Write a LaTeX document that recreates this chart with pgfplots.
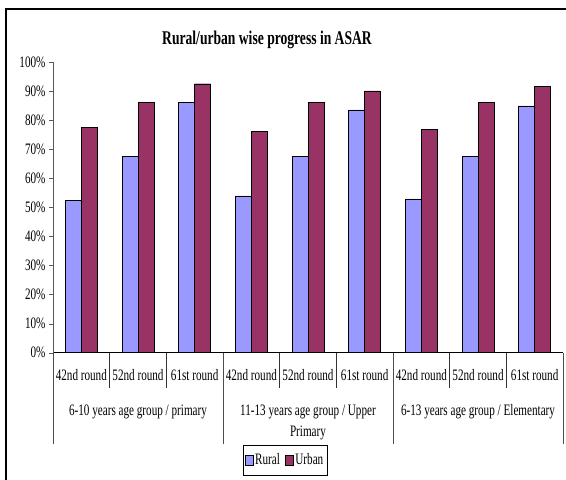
\documentclass[border=0pt]{standalone}
\usepackage{fontspec}
\setmainfont{Liberation Serif}[FakeStretch=0.7]
\usepackage{pgfplots}
\pgfplotsset{compat=1.18}
\definecolor{rural}{HTML}{9999FF}
\definecolor{urban}{HTML}{993366}
\newcommand{\lbl}{\fontsize{16}{18}\selectfont}
\begin{document}
\begin{tikzpicture}[x=1bp,y=1bp]
\useasboundingbox (0,0) rectangle (566,480);
\begin{scope}
\clip (0,0) rectangle (566,480);
\draw[line width=1.3bp] (6,-5) -- (6,471) -- (575,471);
\end{scope}
\node[font=\fontsize{19.5}{22}\selectfont\bfseries] at (267,440) {Rural/urban wise progress in ASAR};
\begin{axis}[
  at={(53bp,127.3bp)}, anchor=south west,
  scale only axis, width=510bp, height=290.8bp,
  xmin=0, xmax=9, ymin=0, ymax=100,
  axis x line=bottom, axis y line=left,
  x axis line style={-, black},
  y axis line style={-, black!65},
  ybar=0pt, bar width=16bp,
  ytick={0,10,...,100},
  yticklabel={\pgfmathprintnumber{\tick}\%},
  /pgf/number format/assume math mode=true,
  tick align=outside, major tick length=4bp,
  ytick style={black!65},
  xtick={0.5,1.5,...,8.5},
  xticklabels={42nd round,52nd round,61st round,42nd round,52nd round,61st round,42nd round,52nd round,61st round},
  xtick style={draw=none},
  xticklabel style={font=\lbl, anchor=base, yshift=-24bp},
  yticklabel style={font=\lbl},
  legend style={at={(0.455,-0.369)}, anchor=center, draw=black, font=\lbl,
    legend columns=-1, inner ysep=7bp, inner xsep=2bp,
    /tikz/every even column/.append style={column sep=3bp}},
  legend image code/.code={\draw[#1,draw=black] (0bp,-5bp) rectangle (8bp,5bp);},
  clip=false,
]
\addplot[fill=rural, draw=black] coordinates {(0.5,52.3) (1.5,67.4) (2.5,86.0) (3.5,53.9) (4.5,67.4) (5.5,83.5) (6.5,52.9) (7.5,67.4) (8.5,84.9)};
\addplot[fill=urban, draw=black] coordinates {(0.5,77.5) (1.5,86.0) (2.5,92.5) (3.5,76.0) (4.5,86.0) (5.5,90.0) (6.5,76.9) (7.5,86.0) (8.5,91.6)};
\legend{Rural,Urban}
\pgfplotsinvokeforeach{1,2,4,5,7,8}{\draw[black!80] (axis cs:#1,0) -- ++(0,-35bp);}
\pgfplotsinvokeforeach{0,3,6,9}{\draw[black!70] (axis cs:#1,0) -- ++(0,-91bp);}
\node[font=\lbl, anchor=base] at ([yshift=-62.8bp]axis cs:1.5,0) {6-10 years age group / primary};
\node[font=\lbl, anchor=base] at ([yshift=-62.8bp]axis cs:4.5,0) {11-13 years age group / Upper};
\node[font=\lbl, anchor=base] at ([yshift=-83.8bp]axis cs:4.5,0) {Primary};
\node[font=\lbl, anchor=base] at ([yshift=-62.8bp]axis cs:7.5,0) {6-13 years age group / Elementary};
\end{axis}
\end{tikzpicture}
\end{document}
